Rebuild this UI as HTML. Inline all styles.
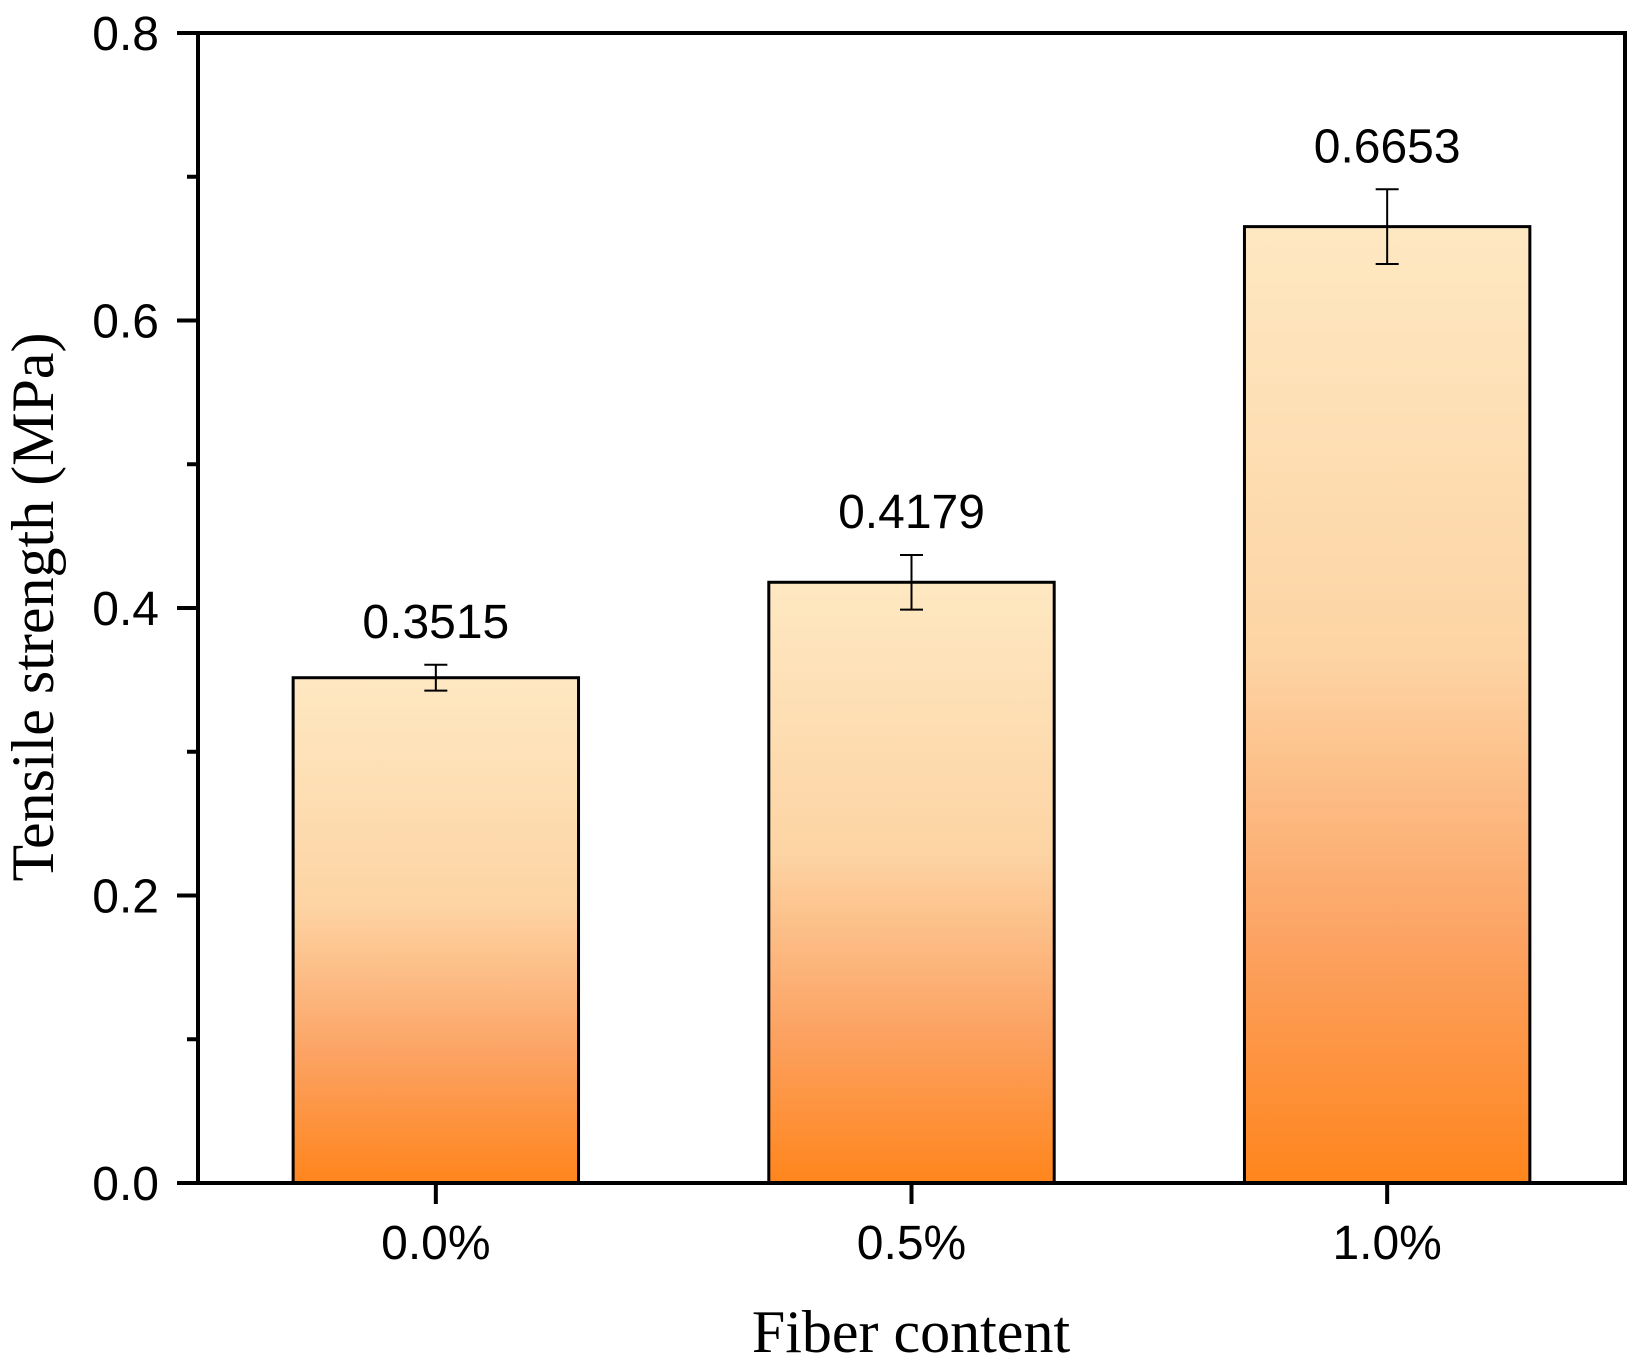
<!DOCTYPE html>
<html><head><meta charset="utf-8"><style>
html,body{margin:0;padding:0;background:#fff;}
svg{display:block;}
</style></head><body>
<svg id="chart" width="1640" height="1364" viewBox="0 0 1640 1364" xmlns="http://www.w3.org/2000/svg">
<defs>
<linearGradient id="barGrad" x1="0" y1="0" x2="0" y2="1">
<stop offset="0" stop-color="#fee8c2"/>
<stop offset="0.45" stop-color="#fdd4a4"/>
<stop offset="0.75" stop-color="#fca262"/>
<stop offset="1" stop-color="#ff851c"/>
</linearGradient>
</defs>
<g id="plot"></g>
<text x="911" y="1352" text-anchor="middle" font-family="Liberation Serif, serif" font-size="60">Fiber content</text>
<text transform="translate(53,607) rotate(-90)" text-anchor="middle" font-family="Liberation Serif, serif" font-size="60">Tensile strength (MPa)</text>
</svg>
<script>
const categories = ["0.0%", "0.5%", "1.0%"];
const values = [0.3515, 0.4179, 0.6653];
const errors = [0.009, 0.019, 0.026];
const valueLabels = ["0.3515", "0.4179", "0.6653"];
const yTicks = [0.0, 0.2, 0.4, 0.6, 0.8];
const yTickLabels = ["0.0", "0.2", "0.4", "0.6", "0.8"];
const yMinorTicks = [0.1, 0.3, 0.5, 0.7];

const L = 198, R = 1625, T = 33, B = 1183;
const yMin = 0, yMax = 0.8;
const y = v => B - (v - yMin) / (yMax - yMin) * (B - T);
const band = (R - L) / categories.length;
const x = i => L + band * (i + 0.5);
const barW = band * 0.6;
const NS = "http://www.w3.org/2000/svg";
const g = document.getElementById('plot');
function mk(tag, attrs) {
  const e = document.createElementNS(NS, tag);
  for (const k in attrs) e.setAttribute(k, attrs[k]);
  g.appendChild(e);
  return e;
}
values.forEach((v, i) => {
  const b = mk('rect', {x: x(i) - barW / 2, y: y(v), width: barW, height: y(0) - y(v), fill: 'url(#barGrad)', stroke: '#000', 'stroke-width': 3});
  
  
  const top = y(v + errors[i]), bot = y(v - errors[i]), cx = x(i);
  const e = mk('path', {d: `M${cx},${top}V${bot}M${cx - 11.5},${top}H${cx + 11.5}M${cx - 11.5},${bot}H${cx + 11.5}`, stroke: '#000', 'stroke-width': 2, fill: 'none'});
  
  
  const t = mk('text', {x: cx, y: top - 27, 'text-anchor': 'middle', 'font-family': 'Liberation Sans, sans-serif', 'font-size': 48});
  t.textContent = valueLabels[i];
  
  
  const tk = mk('line', {x1: cx, x2: cx, y1: B, y2: B + 21, stroke: '#000', 'stroke-width': 4});
  
  
  const xl = mk('text', {x: cx, y: 1259, 'text-anchor': 'middle', 'font-family': 'Liberation Sans, sans-serif', 'font-size': 48});
  xl.textContent = categories[i];
  
  
});
yTicks.forEach((v, i) => {
  const tk = mk('line', {x1: L - 21, x2: L, y1: y(v), y2: y(v), stroke: '#000', 'stroke-width': 4});
  
  
  const tl = mk('text', {x: 159, y: y(v) + 17, 'text-anchor': 'end', 'font-family': 'Liberation Sans, sans-serif', 'font-size': 48});
  tl.textContent = yTickLabels[i];
  
  
});
yMinorTicks.forEach(v => {
  const tk = mk('line', {x1: L - 11, x2: L, y1: y(v), y2: y(v), stroke: '#000', 'stroke-width': 4});
  
  
});
const frame = mk('rect', {x: L, y: T, width: R - L, height: B - T, fill: 'none', stroke: '#000', 'stroke-width': 4});


</script>
</body></html>
